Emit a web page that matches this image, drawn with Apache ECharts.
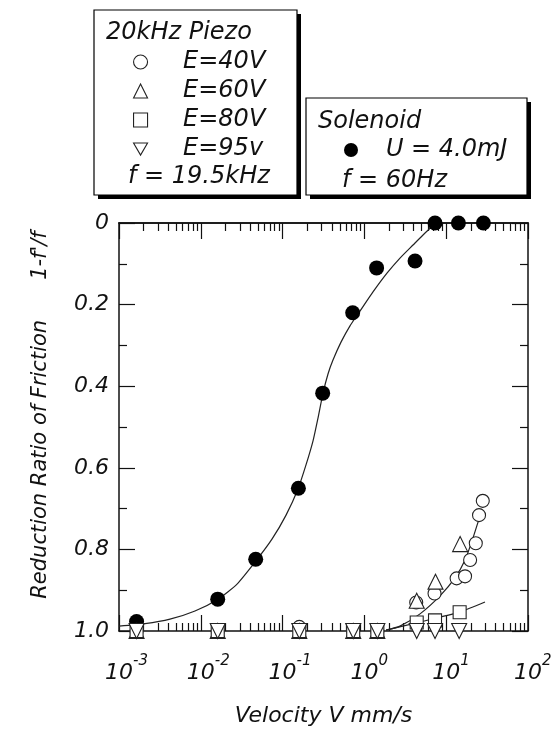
<!DOCTYPE html>
<html><head><meta charset="utf-8">
<script src="https://cdn.jsdelivr.net/npm/echarts@6/dist/echarts.min.js"></script>
<style>html,body{margin:0;padding:0;background:#fff}#c{width:555px;height:742px}</style>
</head><body><div id="c"></div>
<script>
const FONT = 'DejaVu Sans';

// Solenoid, U = 4.0mJ, f = 60Hz (filled circles)
const solenoidV = [0.00164, 0.0161, 0.0469, 0.156, 0.309, 0.719, 1.41, 4.16, 7.3, 14.1, 28.5];
const solenoidR = [0.977, 0.922, 0.824, 0.650, 0.417, 0.220, 0.110, 0.093, 0, 0, 0];
// Solenoid fitted curve
const solenoidFitV = [0.001, 0.00208, 0.0042, 0.00849, 0.01622, 0.02773, 0.04732, 0.07413, 0.1102, 0.1542, 0.1932, 0.2355, 0.2710, 0.3119, 0.3589, 0.4130, 0.5176, 0.6668, 0.8830, 1.274, 1.888, 2.723, 3.926, 5.358, 7.295];
const solenoidFitR = [0.988, 0.982, 0.971, 0.951, 0.922, 0.885, 0.828, 0.775, 0.716, 0.652, 0.593, 0.534, 0.478, 0.417, 0.370, 0.336, 0.292, 0.252, 0.216, 0.169, 0.123, 0.086, 0.054, 0.027, 0.002];

// 20kHz Piezo
const e40V = [0.00164, 0.0161, 0.16, 0.73, 1.44, 4.3, 7.2, 13.4, 17.0, 19.6, 23.0, 25.2, 28.0];
const e40R = [1.0, 1.0, 0.99, 1.0, 1.0, 0.93, 0.908, 0.871, 0.866, 0.826, 0.785, 0.716, 0.681];
const e60V = [0.00164, 0.0161, 0.16, 0.73, 1.44, 4.36, 7.4, 14.8];
const e60R = [1, 1, 1, 1, 1, 0.926, 0.879, 0.787];
const e80V = [0.00164, 0.0161, 0.16, 0.73, 1.44, 4.36, 7.3, 14.6];
const e80R = [1, 1, 1, 1, 1, 0.979, 0.974, 0.954];
const e95V = [0.00164, 0.0161, 0.16, 0.73, 1.44, 4.36, 7.3, 14.4];
const e95R = [1, 1, 1, 1, 1, 1, 1, 1];
// Piezo fitted curves
const fit40V = [1.84, 2.72, 4.79, 8.40, 12.8, 17.0, 20.7, 24.5, 27.4];
const fit40R = [0.998, 0.988, 0.958, 0.914, 0.870, 0.826, 0.779, 0.733, 0.703];
const fit80V = [1.84, 4.79, 14.8, 29.8];
const fit80R = [0.998, 0.978, 0.953, 0.929];

// Axis ticks
const xMajorExp = [-3, -2, -1, 0, 1, 2];
const xMinorMult = [2, 3, 4, 5, 6, 7, 8, 9];
const yTicks = [0, 0.2, 0.4, 0.6, 0.8, 1.0];
const yTickLabels = ['0', '0.2', '0.4', '0.6', '0.8', '1.0'];

const zip = (a, b) => a.map((v, i) => [v, b[i]]);
const minorVals = [];
xMajorExp.slice(0, -1).forEach(e => xMinorMult.forEach(m => minorVals.push(e + Math.log10(m))));

const txt = {fontFamily: FONT, fontStyle: 'italic', color: '#111'};
const black = '#111';
const DOWN_TRI = 'path://M0,0L20,0L10,17.3Z';

function tickAxis(pos, vals, len, showLine) {
  return {
    type: 'value', position: pos, min: -3, max: 2,
    axisLine: {show: showLine, onZero: false, lineStyle: {color: black, width: 1.5}},
    axisTick: {show: true, inside: true, length: len, customValues: vals, lineStyle: {color: black, width: 1.2}},
    axisLabel: {show: false}, splitLine: {show: false}
  };
}
function yAxis(pos, labels) {
  return {
    type: 'value', position: pos, inverse: true, min: 0, max: 1, interval: 0.2,
    axisLine: {show: true, onZero: false, lineStyle: {color: black, width: 1.5}},
    axisTick: {show: true, inside: true, length: 16, lineStyle: {color: black, width: 1.2}},
    minorTick: {show: true, splitNumber: 2, length: 8, lineStyle: {color: black, width: 1.2}},
    axisLabel: {show: labels, margin: 10, fontSize: 22, ...txt,
      formatter: v => yTickLabels[yTicks.findIndex(t => Math.abs(t - v) < 1e-6)] || ''},
    splitLine: {show: false}, minorSplitLine: {show: false}
  };
}
const open = {color: '#fff', borderColor: '#222', borderWidth: 1.1, opacity: 1};
function piezo(name, symbol, size, V, R, rot) {
  return {type: 'scatter', name, symbol, symbolSize: size, symbolRotate: rot || 0, clip: false,
    itemStyle: open, data: zip(V, R), z: 3};
}
function fitLine(V, R) {
  return {type: 'line', data: zip(V, R), smooth: 0.2, showSymbol: false, symbol: 'none', clip: false,
    lineStyle: {color: '#222', width: 1.2}, z: 2, silent: true};
}

const chart = echarts.init(document.getElementById('c'), null, {renderer: 'canvas'});
chart.setOption({
  animation: false,
  backgroundColor: '#fff',
  grid: {left: 119, top: 223, width: 409, height: 408, containLabel: false},
  xAxis: [
    {type: 'log', logBase: 10, min: 0.001, max: 100, position: 'bottom',
      axisLine: {show: true, onZero: false, lineStyle: {color: black, width: 1.5}},
      axisTick: {show: false}, splitLine: {show: false},
      name: 'Velocity V mm/s', nameLocation: 'middle', nameGap: 74,
      nameTextStyle: {...txt, fontSize: 22},
      axisLabel: {margin: 23, ...txt,
        formatter: v => { const e = Math.round(Math.log10(v)); return '{h|' + e + '}{b|10}{s|' + e + '}'; },
        rich: {
          h: {fontSize: 15, fontFamily: FONT, fontStyle: 'italic', color: 'transparent', verticalAlign: 'top'},
          b: {fontSize: 22, fontFamily: FONT, fontStyle: 'italic', color: '#111', lineHeight: 30, verticalAlign: 'bottom'},
          s: {fontSize: 15, fontFamily: FONT, fontStyle: 'italic', color: '#111', verticalAlign: 'top'}
        }}},
    tickAxis('bottom', minorVals, 8, false),
    tickAxis('bottom', xMajorExp, 16, false),
    tickAxis('top', minorVals, 8, true),
    tickAxis('top', xMajorExp, 16, true)
  ],
  yAxis: [yAxis('left', true), yAxis('right', false)],
  legend: [
    {data: ['E=40V', 'E=60V', 'E=80V', {name: 'E=95v', icon: DOWN_TRI}], orient: 'vertical', left: 128, top: 45, z: 20,
      itemWidth: 14, itemHeight: 14, itemGap: 5, selectedMode: false,
      itemStyle: {color: '#fff', borderColor: '#222', borderWidth: 1.1},
      formatter: n => '    ' + n,
      textStyle: {...txt, fontSize: 24}},
    {data: ['U = 4.0mJ'], orient: 'vertical', left: 339, top: 133, z: 20,
      itemWidth: 14, itemHeight: 14, selectedMode: false,
      itemStyle: {color: '#000', borderWidth: 0},
      formatter: n => '   ' + n,
      textStyle: {...txt, fontSize: 24}}
  ],
  graphic: [
    {type: 'rect', shape: {x: 98, y: 14, width: 203, height: 185}, style: {fill: '#000'}, z: 1},
    {type: 'rect', shape: {x: 94, y: 10, width: 203, height: 185}, style: {fill: '#fff', stroke: '#000', lineWidth: 1.2}, z: 2},
    {type: 'rect', shape: {x: 310, y: 102, width: 221, height: 97}, style: {fill: '#000'}, z: 1},
    {type: 'rect', shape: {x: 306, y: 98, width: 221, height: 97}, style: {fill: '#fff', stroke: '#000', lineWidth: 1.2}, z: 2},
    {type: 'text', x: 106, y: 33, z: 12, style: {text: '20kHz Piezo', ...txt, fill: '#111', fontSize: 24, textVerticalAlign: 'middle'}},
    {type: 'text', x: 128, y: 177, z: 12, style: {text: 'f = 19.5kHz', ...txt, fill: '#111', fontSize: 24, textVerticalAlign: 'middle'}},
    {type: 'text', x: 318, y: 122, z: 12, style: {text: 'Solenoid', ...txt, fill: '#111', fontSize: 24, textVerticalAlign: 'middle'}},
    {type: 'text', x: 342, y: 181, z: 12, style: {text: 'f = 60Hz', ...txt, fill: '#111', fontSize: 24, textVerticalAlign: 'middle'}},
    {type: 'text', x: 41, y: 415, rotation: Math.PI / 2, z: 12,
      style: {text: "Reduction Ratio of Friction      1-f'/f", ...txt, fill: '#111', fontSize: 21, textAlign: 'center', textVerticalAlign: 'middle'}}
  ],
  series: [
    fitLine(solenoidFitV, solenoidFitR),
    {type: 'scatter', name: 'U = 4.0mJ', symbol: 'circle', symbolSize: 15, clip: false,
      itemStyle: {color: '#000', opacity: 1}, data: zip(solenoidV, solenoidR), z: 3},
    fitLine(fit40V, fit40R),
    fitLine(fit80V, fit80R),
    piezo('E=40V', 'circle', 13, e40V, e40R),
    piezo('E=60V', 'triangle', 15, e60V, e60R),
    piezo('E=80V', 'rect', 13, e80V, e80R),
    piezo('E=95v', 'triangle', 15, e95V, e95R, 180)
  ]
});
</script></body></html>
